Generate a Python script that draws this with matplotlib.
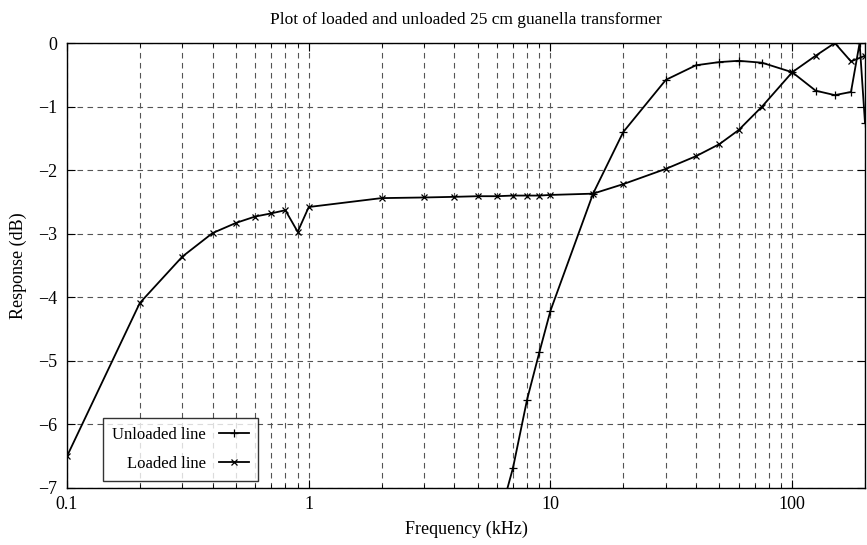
import matplotlib
matplotlib.use("Agg")
import matplotlib.pyplot as plt
from matplotlib.ticker import NullFormatter, LogLocator

plt.rcParams["font.family"] = ["Liberation Serif", "DejaVu Serif"]

# frequency (kHz) and response (dB)
unloaded_f = [6.64, 7, 8, 9, 10, 15, 20, 30, 40, 50, 60, 75, 100, 125, 150, 175, 190, 200]
unloaded_db = [-7.0, -6.68, -5.61, -4.86, -4.21, -2.37, -1.40, -0.58, -0.35, -0.30, -0.28,
               -0.31, -0.46, -0.75, -0.82, -0.77, 0.0, -1.26]

loaded_f = [0.1, 0.2, 0.3, 0.4, 0.5, 0.6, 0.7, 0.8, 0.9, 1, 2, 3, 4, 5, 6, 7, 8, 9, 10,
            15, 20, 30, 40, 50, 60, 75, 100, 125, 150, 175, 200]
loaded_db = [-6.5, -4.09, -3.36, -2.99, -2.83, -2.73, -2.68, -2.63, -2.97, -2.58,
             -2.44, -2.43, -2.42, -2.41, -2.41, -2.40, -2.40, -2.40, -2.39,
             -2.37, -2.22, -1.98, -1.78, -1.59, -1.37, -1.0, -0.46, -0.2, 0.0, -0.29, -0.2]

y_ticks = [0, -1, -2, -3, -4, -5, -6, -7]

fig = plt.figure(figsize=(8.67, 5.45), dpi=100)
ax = fig.add_axes([0.0773, 0.1046, 0.9204, 0.8165])

# the first unloaded point is where the line leaves the bottom edge (no marker)
ax.plot(unloaded_f[1:], unloaded_db[1:], color="k", lw=1.3, marker="+", ms=6, mew=0.9,
        label="Unloaded line")
ax.plot(unloaded_f[:2], unloaded_db[:2], color="k", lw=1.3)
ax.plot(loaded_f, loaded_db, color="k", lw=1.3, marker="x", ms=4, mew=0.9,
        label="Loaded line")

ax.set_xscale("log")
ax.set_xlim(0.1, 200)
ax.set_ylim(-7, 0)
ax.set_xticks([0.1, 1, 10, 100])
ax.set_xticklabels(["0.1", "1", "10", "100"])
ax.xaxis.set_minor_locator(LogLocator(base=10, subs=range(2, 10), numticks=20))
ax.xaxis.set_minor_formatter(NullFormatter())
ax.set_yticks(y_ticks)
ax.set_yticklabels(["0" if v == 0 else "\u2212%d" % -v for v in y_ticks])

ax.grid(True, which="both", axis="x", ls=(0, (5, 4)), color="#555555", lw=0.8)
ax.grid(True, which="major", axis="y", ls=(0, (5, 4)), color="#555555", lw=0.8)
ax.tick_params(which="both", direction="in", top=True, right=True, labelsize=13)
ax.tick_params(which="major", length=6)
ax.tick_params(which="minor", length=3)
ax.tick_params(axis="x", which="major", pad=6)
ax.tick_params(axis="y", which="major", pad=7)
for s in ax.spines.values():
    s.set_linewidth(1.0)

ax.set_xlabel("Frequency (kHz)", fontsize=13, labelpad=5)
ax.set_ylabel("Response (dB)", fontsize=13, labelpad=8)
ax.set_title("Plot of loaded and unloaded 25 cm guanella transformer", fontsize=12.5, pad=14)

leg = ax.legend(loc="lower left", bbox_to_anchor=(0.045, 0.016), borderaxespad=0,
                markerfirst=False, fontsize=12, frameon=True, fancybox=False,
                edgecolor="k", handlelength=1.8, borderpad=0.55, labelspacing=0.75)
leg.get_frame().set_linewidth(1.0)
for t in leg.get_texts():
    t.set_ha("right")

fig.savefig("out.png", dpi=100)
